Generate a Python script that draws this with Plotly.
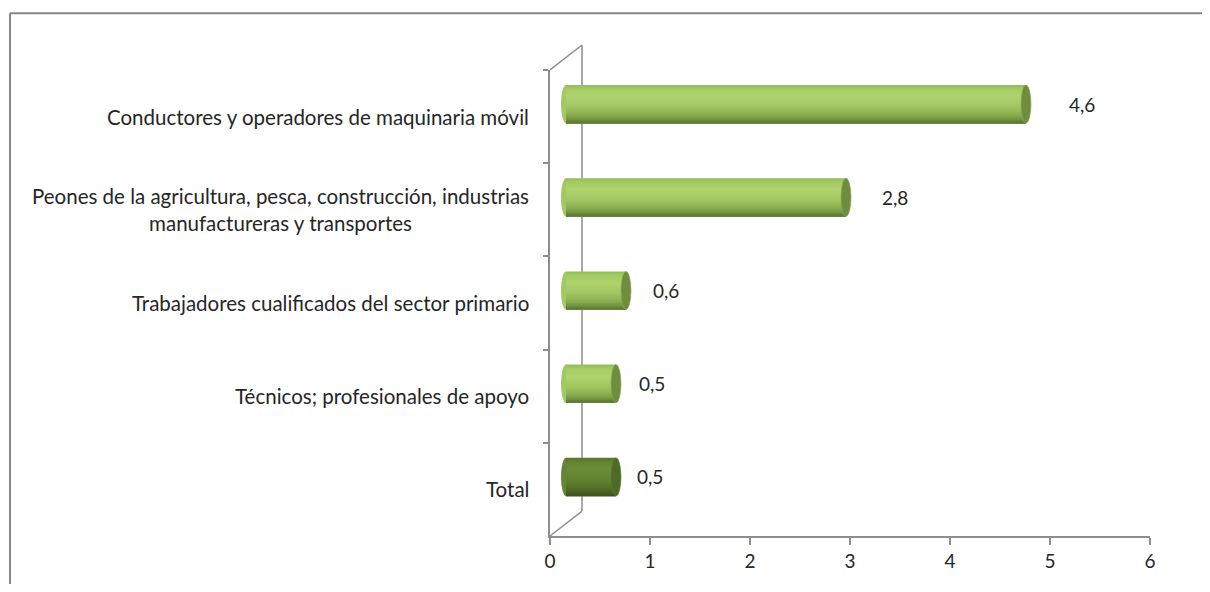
import plotly.graph_objects as go

# ---------------- data ----------------
categories = [
    "Conductores y operadores de maquinaria móvil",
    "Peones de la agricultura, pesca, construcción, industrias<br>manufactureras y transportes",
    "Trabajadores cualificados del sector primario",
    "Técnicos; profesionales de apoyo",
    "Total",
]
values = [4.6, 2.8, 0.6, 0.5, 0.5]
value_labels = ["4,6", "2,8", "0,6", "0,5", "0,5"]
x_ticks = [0, 1, 2, 3, 4, 5, 6]

# ---------------- style ----------------
W, H = 1194, 576                            # page adds an 8 px body margin on every side
ML, MR, MT, MB = 542, 20, 37, 46
PW, PH = W - ML - MR, H - MT - MB          # plot area (incl. 3D depth)
DX, DY = 32, 25                             # 3D depth in px
FRONT_W, FRONT_H = PW - DX, PH - DY
PX_PER_UNIT = FRONT_W / 6
FONT = "Lato, 'Open Sans', sans-serif"
TXT = "#262626"
AX = "#8e8e8e"
BAR_W = 0.41
N_BANDS = 24
label_gap = [41, 34, 25, 21, 19]

light_stops = [(0.0, "#93bb56"), (0.12, "#a6cc66"), (0.3, "#afd36d"), (0.55, "#a2c763"),
               (0.75, "#8fb353"), (0.9, "#729440"), (1.0, "#5a7532")]
dark_stops = [(0.0, "#587529"), (0.15, "#668636"), (0.3, "#6b8c39"), (0.6, "#62812f"),
              (0.8, "#536f27"), (1.0, "#3b511c")]
cap_light, cap_dark = "#6f8c3f", "#4f6a28"
end_light, end_dark = "#a2c863", "#65853a"


def hex2rgb(h):
    h = h.lstrip("#")
    return tuple(int(h[i:i + 2], 16) for i in (0, 2, 4))


def interp(stops, t):
    for (t0, c0), (t1, c1) in zip(stops, stops[1:]):
        if t0 <= t <= t1:
            f = (t - t0) / (t1 - t0) if t1 > t0 else 0
            a, b = hex2rgb(c0), hex2rgb(c1)
            return "rgb(%d,%d,%d)" % tuple(round(a[k] + (b[k] - a[k]) * f) for k in range(3))
    return stops[-1][1]


is_total = [c == "Total" for c in categories]

fig = go.Figure()

# cylinder bodies: overlapping bands (each reaching to the bar bottom) give a shading gradient
band = BAR_W / N_BANDS
for i in range(N_BANDS):
    t = (i + 0.5) / N_BANDS
    cols = [interp(dark_stops if tot else light_stops, t) for tot in is_total]
    fig.add_trace(go.Bar(
        x=values, y=categories, orientation="h",
        width=BAR_W - i * band, offset=-BAR_W / 2 + i * band,
        marker=dict(color=cols, line=dict(width=0)),
        xaxis="x2", yaxis="y2", hoverinfo="skip", showlegend=False,
    ))

# front axes (axis lines / ticks / labels)
fig.add_trace(go.Scatter(x=[None], y=[categories[0]], xaxis="x", yaxis="y",
                         showlegend=False, hoverinfo="skip"))

shapes = []
# 3D wall lines (paper coordinates of the whole plot area)
fx = DX / PW
fy_top = FRONT_H / PH
fy_back = DY / PH
for (x0, y0, x1, y1) in [(fx, fy_back, fx, 1.0), (0, fy_top, fx, 1.0), (0, 0, fx, fy_back)]:
    shapes.append(dict(type="line", xref="paper", yref="paper", x0=x0, y0=y0, x1=x1, y1=y1,
                       line=dict(color=AX, width=1.5), layer="below"))

# cylinder ends
rx = 5 / PX_PER_UNIT
for idx, (v, tot) in enumerate(zip(values, is_total)):
    shapes.append(dict(type="circle", xref="x2", yref="y2",
                       x0=-rx, x1=rx, y0=idx - BAR_W / 2, y1=idx + BAR_W / 2,
                       fillcolor=end_dark if tot else end_light, line=dict(width=0), layer="below"))
    shapes.append(dict(type="circle", xref="x2", yref="y2",
                       x0=v - rx, x1=v + rx, y0=idx - BAR_W / 2, y1=idx + BAR_W / 2,
                       fillcolor=cap_dark if tot else cap_light,
                       line=dict(width=0.6, color="#8aa956" if not tot else "#5d7a30"), layer="above"))

# outer frame: top and left edges of the chart box
fr_x0 = (2 - ML) / PW
fr_x1 = (W + 4 - ML) / PW
fr_yt = (H - MB - 5) / PH
fr_yb = -(MB + 4) / PH
shapes.append(dict(type="line", xref="paper", yref="paper", x0=fr_x0, x1=fr_x1, y0=fr_yt, y1=fr_yt,
                   line=dict(color="#878787", width=2), layer="below"))
shapes.append(dict(type="line", xref="paper", yref="paper", x0=fr_x0, x1=fr_x0, y0=fr_yt, y1=fr_yb,
                   line=dict(color="#878787", width=2), layer="below"))

annotations = []
for c in categories:
    annotations.append(dict(xref="paper", yref="y", x=0, y=c, xanchor="right", yanchor="middle",
                            xshift=-19, text=c, showarrow=False, align="center",
                            font=dict(family=FONT, size=20.5, color=TXT)))
for c, v, lab, g in zip(categories, values, value_labels, label_gap):
    annotations.append(dict(xref="x2", yref="y2", x=v, y=c, xanchor="left", yanchor="middle",
                            xshift=g, text=lab, showarrow=False,
                            font=dict(family=FONT, size=19, color=TXT)))

x2_lo = -(DX / 2) / PX_PER_UNIT   # extend bar axis to the plot-area edge so left caps are not clipped
fig.update_layout(
    width=W, height=H,
    margin=dict(l=ML, r=MR, t=MT, b=MB),
    paper_bgcolor="white", plot_bgcolor="rgba(0,0,0,0)",
    barmode="overlay", showlegend=False,
    shapes=shapes, annotations=annotations,
    xaxis=dict(domain=[0, FRONT_W / PW], range=[0, 6], tickvals=x_ticks,
               ticktext=[str(t) for t in x_ticks], showgrid=False, zeroline=False,
               showline=True, linecolor=AX, linewidth=1.5, ticks="outside",
               ticklen=7, tickcolor=AX, tickwidth=1.5,
               tickfont=dict(family=FONT, size=19, color=TXT), anchor="y", fixedrange=True),
    yaxis=dict(domain=[0, FRONT_H / PH], type="category", categoryorder="array",
               categoryarray=categories, range=[len(categories) - 0.5, -0.5],
               showticklabels=False, showgrid=False, zeroline=False,
               showline=True, linecolor=AX, linewidth=1.5, ticks="outside",
               tickson="boundaries", ticklen=5, tickcolor=AX, tickwidth=1.5,
               anchor="x", fixedrange=True),
    xaxis2=dict(domain=[0, (DX / 2 + FRONT_W) / PW], range=[x2_lo, 6], visible=False,
                anchor="y2", fixedrange=True),
    yaxis2=dict(domain=[DY / 2 / PH, (DY / 2 + FRONT_H) / PH], type="category",
                categoryorder="array", categoryarray=categories,
                range=[len(categories) - 0.5, -0.5], visible=False, anchor="x2", fixedrange=True),
)

fig.write_html("out.html")
